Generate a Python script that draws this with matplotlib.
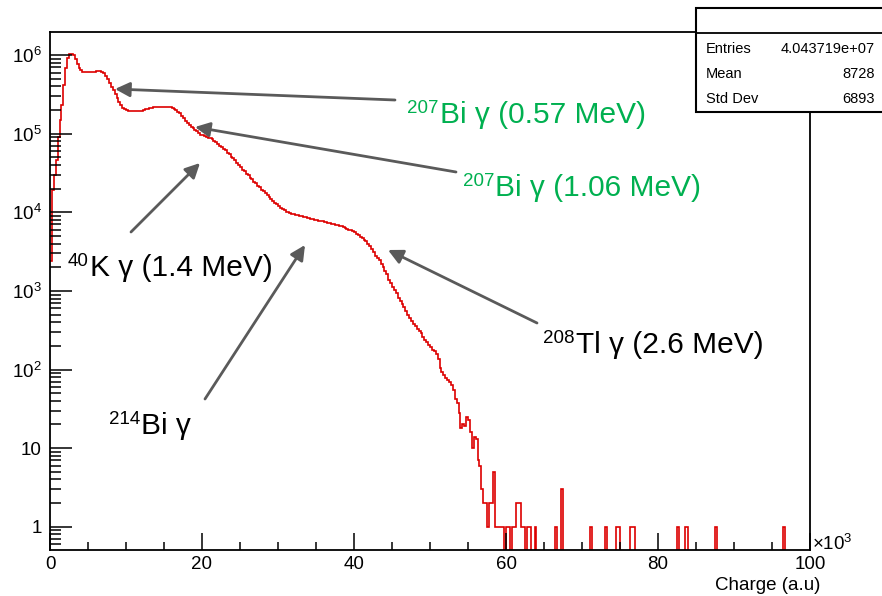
import numpy as np
import matplotlib
matplotlib.use("Agg")
import matplotlib.pyplot as plt
from matplotlib.patches import Rectangle
from matplotlib.lines import Line2D
from matplotlib.ticker import FixedLocator, MultipleLocator, FuncFormatter, LogLocator, NullFormatter

plt.rcParams["font.family"] = ["Liberation Sans", "DejaVu Sans"]
plt.rcParams["mathtext.fontset"] = "custom"
plt.rcParams["mathtext.rm"] = "Liberation Sans"
plt.rcParams["mathtext.it"] = "Liberation Sans:italic"
plt.rcParams["mathtext.bf"] = "Liberation Sans:bold"

# Charge spectrum, 400 bins of 250 a.u. (axis in units of 10^3)
bin_width_k = 0.25
n_bins = 400

# counts of the continuous part, bins starting at 0, one row per 1000 a.u.
main_counts = [
    2400, 19000, 29500, 45700,
    91200, 148000, 229000, 417000,
    692000, 912000, 1023000, 1047000,
    1000000, 891000, 776000, 692000,
    646000, 617000, 603000, 603000,
    602000, 604000, 610000, 617000,
    631000, 631000, 628000, 617000,
    589000, 550000, 501000, 447000,
    398000, 355000, 316000, 282000,
    251000, 229000, 214000, 204000,
    200000, 196000, 195000, 194000,
    195000, 194000, 195000, 196000,
    197000, 200000, 204000, 209000,
    214000, 214000, 219000, 219000,
    221000, 222000, 221000, 222000,
    221000, 220000, 219000, 217000,
    214000, 209000, 200000, 191000,
    182000, 170000, 158000, 145000,
    135000, 129000, 123000, 117500,
    112000, 107000, 102300, 97700,
    95500, 93300, 91200, 89100,
    87100, 85100, 81300, 77600,
    74100, 70800, 67600, 64600,
    61700, 57500, 55000, 51300,
    49000, 45700, 42700, 39800,
    37200, 34700, 33100, 30900,
    29500, 27500, 26300, 24500,
    23400, 21900, 20900, 19500,
    18600, 17400, 16600, 15500,
    14800, 13800, 13200, 12600,
    12000, 11500, 11000, 10600,
    10200, 10000, 9770, 9550,
    9440, 9330, 9120, 9020,
    8910, 8810, 8710, 8510,
    8410, 8320, 8130, 8040,
    7940, 7850, 7760, 7670,
    7590, 7500, 7410, 7240,
    7160, 7080, 6920, 6840,
    6760, 6610, 6460, 6310,
    6170, 6030, 5890, 5750,
    5560, 5370, 5130, 4900,
    4680, 4470, 4270, 3980,
    3720, 3390, 3090, 2820,
    2630, 2450, 2190, 2000,
    1780, 1620, 1380, 1260,
    1120, 1020, 933, 813,
    741, 676, 617, 550,
    501, 447, 417, 380,
    355, 331, 309, 288,
    257, 240, 224, 204,
    195, 178, 174, 158,
    135, 105, 93, 85,
    79, 74, 69, 63,
    55, 42, 37, 28,
    18, 20, 19, 25,
    23, 16, 10, 14,
    13, 7, 6, 3,
    2, 2, 1, 2,
]

# sparse high-charge tail: lower bin edge (10^3 a.u.) and counts
tail_low_edge = [58.0, 58.25, 58.5, 58.75, 59.0, 59.25, 59.5, 60.0, 60.25, 60.75,
                 61.0, 61.25, 61.5, 61.75, 62.0, 62.25, 62.75, 63.0, 63.75, 66.5,
                 67.25, 71.0, 73.0, 74.5, 74.75, 76.25, 76.5, 76.75, 82.5, 83.5,
                 83.75, 87.5, 96.5]
tail_counts = [2, 5, 1, 1, 1, 1, 1, 1, 1, 1,
               1, 2, 2, 2, 1, 1, 1, 1, 1, 1,
               3, 1, 1, 1, 1, 1, 1, 1, 1, 1,
               1, 1, 1]

x_major = [0, 20, 40, 60, 80, 100]
y_major = [1, 10, 1e2, 1e3, 1e4, 1e5, 1e6]

stats_names = ["Entries", "Mean", "Std Dev"]
stats_values = ["4.043719e+07", "8728", "6893"]

counts = np.zeros(n_bins)
counts[:len(main_counts)] = main_counts
for lo, c in zip(tail_low_edge, tail_counts):
    counts[int(round(lo / bin_width_k))] = c
edges = np.arange(n_bins + 1) * bin_width_k

W, H = 882, 596
fig = plt.figure(figsize=(W / 100, H / 100), dpi=100)
ax_l, ax_r, ax_t, ax_b = 50, 810, 32, 550
ax = fig.add_axes([ax_l / W, 1 - ax_b / H, (ax_r - ax_l) / W, (ax_b - ax_t) / H])

ax.set_yscale("log", nonpositive="clip")
ax.stairs(counts, edges, baseline=None, color="#dd0000", lw=1.2)
ax.set_xlim(0, 100)
ax.set_ylim(0.505, 1.97e6)

for s in ax.spines.values():
    s.set_linewidth(1.3)
    s.set_color("black")

ax.xaxis.set_major_locator(FixedLocator(x_major))
ax.xaxis.set_minor_locator(MultipleLocator(5))
ax.xaxis.set_major_formatter(FuncFormatter(lambda v, p: f"{v:g}"))
ax.yaxis.set_major_locator(FixedLocator(y_major))
ax.yaxis.set_minor_locator(LogLocator(base=10, subs=np.arange(2, 10), numticks=30))
ax.yaxis.set_minor_formatter(NullFormatter())


def ylab(v, p):
    e = int(round(np.log10(v)))
    if e == 0:
        return "1"
    if e == 1:
        return "10"
    return r"$10^{%d}$" % e


ax.yaxis.set_major_formatter(FuncFormatter(ylab))
ax.tick_params(axis="both", which="both", direction="in", colors="black", labelsize=13.5)
ax.tick_params(axis="y", which="major", length=15.8, width=1.1, pad=6)
ax.tick_params(axis="y", which="minor", length=7.9, width=1.1)
ax.tick_params(axis="x", which="major", length=12.2, width=1.1, pad=4)
ax.tick_params(axis="x", which="minor", length=5.8, width=1.1)


def px(x, y):
    """figure pixel (from top-left) -> axes fraction"""
    return ((x - ax_l) / (ax_r - ax_l), (ax_b - y) / (ax_b - ax_t))


arrow_col = "#5a5a5a"
arrows = [
    ((395, 100), (115, 89)),
    ((456, 172), (195, 127)),
    ((131, 232), (200, 163)),
    ((205, 399), (305, 245)),
    ((537, 323), (388, 250)),
]
for tail, head in arrows:
    ax.annotate("", xy=px(*head), xytext=px(*tail), xycoords="axes fraction",
                textcoords="axes fraction",
                arrowprops=dict(arrowstyle="-|>", color=arrow_col, lw=2,
                                mutation_scale=22, shrinkA=0, shrinkB=0),
                annotation_clip=False)

green = "#00b050"
labels = [
    ("207", "Bi γ (0.57 MeV)", 440, 123, green),
    ("207", "Bi γ (1.06 MeV)", 495, 196, green),
    ("40", "K γ (1.4 MeV)", 90, 276, "black"),
    ("214", "Bi γ", 141, 434, "black"),
    ("208", "Tl γ (2.6 MeV)", 576, 353, "black"),
]
for sup, main, x, y, col in labels:
    ax.text(*px(x, y), main, transform=ax.transAxes, fontsize=21.5, color=col,
            ha="left", va="baseline")
    ax.text(*px(x - 1, y - 10), sup, transform=ax.transAxes, fontsize=13.5, color=col,
            ha="right", va="baseline")

fig.text(812 / W, 1 - 550 / H, r"×10$^{3}$", fontsize=13.5, ha="left", va="baseline")
fig.text(820 / W, 1 - 590 / H, "Charge (a.u)", fontsize=13.5, ha="right", va="baseline")

# statistics box
bx0, by0, by1 = 696, 8, 112
fig.add_artist(Rectangle((bx0 / W, 1 - by1 / H), 0.3, (by1 - by0) / H,
                         transform=fig.transFigure, fc="white", ec="black", lw=1.5,
                         zorder=5, clip_on=False))
fig.add_artist(Line2D([bx0 / W, 1.0], [1 - 33 / H, 1 - 33 / H],
                      transform=fig.transFigure, color="black", lw=1.3, zorder=6))
for i, (n, v) in enumerate(zip(stats_names, stats_values)):
    yy = 1 - (49 + 25 * i) / H
    fig.text(706 / W, yy, n, fontsize=10.5, ha="left", va="center", zorder=7)
    fig.text(875 / W, yy, v, fontsize=10.5, ha="right", va="center", zorder=7)

fig.savefig("out.png", dpi=100)
